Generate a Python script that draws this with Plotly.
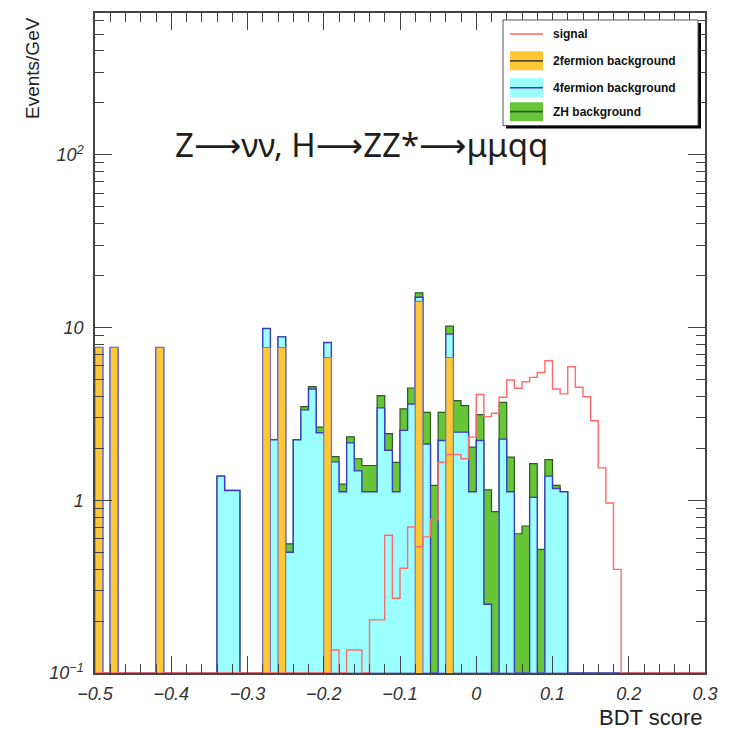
import numpy as np
import plotly.graph_objects as go

# BDT score histogram: 80 bins of width 0.01 between -0.5 and 0.3
bin_edges = np.round(np.linspace(-0.5, 0.3, 81), 4)

# Events/GeV per bin, one list per sample (rows of ten bins)
bkg_2fermion = [
    7.67, 0, 7.67, 0, 0, 0, 0, 0, 7.67, 0,
    0, 0, 0, 0, 0, 0, 0, 0, 0, 0,
    0, 0, 7.67, 0, 7.67, 0, 0, 0, 0, 0,
    6.71, 0, 0, 0, 0, 0, 0, 0, 0, 0,
    0, 0, 14.2, 0, 0, 0, 6.71, 0, 0, 0,
    0, 0, 0, 0, 0, 0, 0, 0, 0, 0,
    0, 0, 0, 0, 0, 0, 0, 0, 0, 0,
    0, 0, 0, 0, 0, 0, 0, 0, 0, 0,
]
bkg_4fermion = [
    0, 0, 0, 0, 0, 0, 0, 0, 0, 0,
    0, 0, 0, 0, 0, 0, 1.38, 1.14, 1.14, 0,
    0, 0, 2.20, 2.24, 1.17, 0.50, 2.24, 3.34, 4.41, 2.46,
    1.48, 1.67, 1.12, 2.15, 1.48, 1.12, 1.12, 3.43, 1.95, 1.12,
    2.54, 3.61, 0.80, 2.12, 0, 2.22, 2.45, 2.48, 2.48, 1.12,
    2.22, 0.25, 0, 2.26, 1.12, 0, 0, 1.04, 0, 1.38,
    1.17, 1.12, 0, 0, 0, 0, 0, 0, 0, 0,
    0, 0, 0, 0, 0, 0, 0, 0, 0, 0,
]
bkg_zh = [
    0, 0, 0, 0, 0, 0, 0, 0, 0, 0,
    0, 0, 0, 0, 0, 0, 0, 0, 0, 0,
    0, 0, 0, 0, 0, 0.06, 0, 0.15, 0.14, 0.19,
    0, 0.12, 0.12, 0.18, 0.26, 0.47, 0.47, 0.61, 0.48, 0.54,
    0.84, 0.86, 0.90, 1.11, 1.22, 1.01, 1.04, 1.30, 1.05, 0.91,
    0.91, 0.90, 0.86, 1.43, 0.66, 0.64, 0.71, 0.59, 0.52, 0.34,
    0.05, 0, 0, 0, 0, 0, 0, 0, 0, 0,
    0, 0, 0, 0, 0, 0, 0, 0, 0, 0,
]
signal = [
    0, 0, 0, 0, 0, 0, 0, 0, 0, 0,
    0, 0, 0, 0, 0, 0, 0, 0, 0, 0,
    0, 0, 0, 0, 0, 0, 0, 0, 0, 0,
    0, 0.136, 0, 0.136, 0.136, 0, 0.203, 0.203, 0.628, 0.271,
    0.404, 0.701, 0.538, 0.614, 0.774, 1.66, 1.84, 1.84, 1.74, 2.32,
    4.10, 3.05, 3.19, 3.95, 4.97, 4.45, 4.86, 5.15, 5.50, 6.43,
    4.41, 4.13, 5.93, 4.51, 3.98, 2.89, 1.54, 0.965, 0.398, 0,
    0, 0, 0, 0, 0, 0, 0, 0, 0, 0,
]

x_tick_vals = [-0.5, -0.4, -0.3, -0.2, -0.1, 0, 0.1, 0.2, 0.3]
x_tick_text = ["\u22120.5", "\u22120.4", "\u22120.3", "\u22120.2", "\u22120.1", "0", "0.1", "0.2", "0.3"]
y_tick_vals = [0.1, 1, 10, 100]
y_tick_text = ["10<sup>\u22121</sup>", "1", "10", "10<sup>2</sup>"]

Y_MIN, Y_MAX = 0.1, 663.0

# stacked totals, drawn from the top of the stack down
stack_2f = np.array(bkg_2fermion, dtype=float)
stack_4f = stack_2f + np.array(bkg_4fermion, dtype=float)
stack_all = stack_4f + np.array(bkg_zh, dtype=float)


def step_outline(values):
    vals = np.asarray(values, dtype=float)
    vals = np.where(vals > 0, vals, Y_MIN)
    xs, ys = [bin_edges[0]], [Y_MIN]
    for i, v in enumerate(vals):
        xs += [bin_edges[i], bin_edges[i + 1]]
        ys += [v, v]
    xs.append(bin_edges[-1])
    ys.append(Y_MIN)
    return xs, ys


C_ORANGE = "#ffc833"
C_CYAN = "#9cffff"
C_GREEN = "#66c636"
C_BLUE = "#3c3cc8"
C_DKGREEN = "#2d5a23"
C_RED = "#ff6a6a"

fig = go.Figure()
for vals, fill, line, lw in [
    (stack_all, C_GREEN, C_DKGREEN, 1.2),
    (stack_4f, C_CYAN, C_BLUE, 1.4),
    (stack_2f, C_ORANGE, "#7a78c8", 1.2),
]:
    xs, ys = step_outline(vals)
    fig.add_trace(go.Scatter(x=xs, y=ys, mode="lines", fill="toself", fillcolor=fill,
                             line=dict(color=line, width=lw), hoverinfo="skip",
                             showlegend=False))

xs, ys = step_outline(signal)
fig.add_trace(go.Scatter(x=xs, y=ys, mode="lines", line=dict(color=C_RED, width=1.4),
                         hoverinfo="skip", showlegend=False))

# plot frame in pixels
L, R, T, B = 95, 705, 11, 673.3
W, H = 739, 731


def px(x):
    return (x - L) / (R - L)


def py(y):
    return (B - y) / (B - T)


axis_font = dict(family="Liberation Sans, Arial, sans-serif", size=18, color="#333333",
                 style="italic")

fig.update_xaxes(range=[-0.5, 0.3], tickvals=x_tick_vals, ticktext=x_tick_text,
                 ticks="inside", ticklen=17, tickwidth=1, tickcolor="#444444",
                 showline=True, linecolor="#444444", linewidth=1.5, mirror="allticks",
                 showgrid=False, zeroline=False, tickfont=axis_font, ticklabelstandoff=4,
                 minor=dict(ticks="inside", ticklen=9, tickwidth=1, tickcolor="#444444",
                            tick0=-0.5, dtick=0.02, showgrid=False))
minor_y = [k * 10.0 ** d for d in range(-1, 3) for k in range(2, 10) if k * 10.0 ** d < Y_MAX]
fig.update_yaxes(type="log", range=[np.log10(Y_MIN), np.log10(Y_MAX)],
                 tickvals=y_tick_vals, ticktext=y_tick_text,
                 ticks="inside", ticklen=17, tickwidth=1, tickcolor="#444444",
                 showline=True, linecolor="#444444", linewidth=1.5, mirror="allticks",
                 showgrid=False, zeroline=False, tickfont=axis_font, ticklabelstandoff=6,
                 minor=dict(ticks="inside", ticklen=9, tickwidth=1, tickcolor="#444444",
                            tickvals=minor_y, showgrid=False))

shapes = []
annotations = []

# legend box with drop shadow
shapes.append(dict(type="rect", xref="paper", yref="paper", x0=px(506), x1=px(701),
                   y0=py(127), y1=py(21), fillcolor="#000000", line=dict(width=0)))
shapes.append(dict(type="rect", xref="paper", yref="paper", x0=px(503), x1=px(698),
                   y0=py(124), y1=py(18), fillcolor="#ffffff",
                   line=dict(color="#555555", width=1)))
shapes.append(dict(type="line", xref="paper", yref="paper", x0=px(510), x1=px(543),
                   y0=py(32), y1=py(32), line=dict(color=C_RED, width=1.4)))
for yc, fill, line in [(59, C_ORANGE, "#5a4a3a"), (86, C_CYAN, C_BLUE), (110, C_GREEN, C_DKGREEN)]:
    shapes.append(dict(type="rect", xref="paper", yref="paper", x0=px(510), x1=px(543),
                       y0=py(yc + 9.5), y1=py(yc - 9.5), fillcolor=fill, line=dict(width=0)))
    shapes.append(dict(type="line", xref="paper", yref="paper", x0=px(510), x1=px(543),
                       y0=py(yc), y1=py(yc), line=dict(color=line, width=1.6)))

legend_font = dict(family="Liberation Sans, Arial, sans-serif", size=12, color="#111111",
                   weight="bold")
for yc, label in [(32, "signal"), (59, "2fermion background"),
                  (86, "4fermion background"), (110, "ZH background")]:
    annotations.append(dict(xref="paper", yref="paper", x=px(551), y=py(yc), text=label,
                            xanchor="left", yanchor="middle", showarrow=False,
                            font=legend_font))

# process label; long arrows taken from DejaVu Sans
arrow = '<span style="font-family:DejaVu Sans">\u27f6</span>'
process_label = f"Z{arrow}\u03bd\u03bd, H{arrow}ZZ*{arrow}\u03bc\u03bcqq"
annotations.append(dict(xref="paper", yref="paper", x=px(361), y=py(143),
                        text=process_label,
                        xanchor="center", yanchor="middle", showarrow=False,
                        font=dict(family="Noto Sans, sans-serif", size=33, color="#1e1e1e")))

title_font = dict(family="Liberation Sans, Arial, sans-serif", size=19, color="#222222")
annotations.append(dict(xref="paper", yref="paper", x=px(705), y=py(718), text="BDT score",
                        xanchor="right", yanchor="middle", showarrow=False,
                        font=dict(title_font, size=22)))
annotations.append(dict(xref="paper", yref="paper", x=px(33), y=py(13), text="Events/GeV",
                        textangle=-90, xanchor="center", yanchor="top", showarrow=False,
                        font=title_font))

fig.update_layout(width=W, height=H, margin=dict(l=L, r=W - R, t=T, b=H - B),
                  paper_bgcolor="white", plot_bgcolor="white", showlegend=False,
                  shapes=shapes, annotations=annotations)

fig.write_html("out.html")
